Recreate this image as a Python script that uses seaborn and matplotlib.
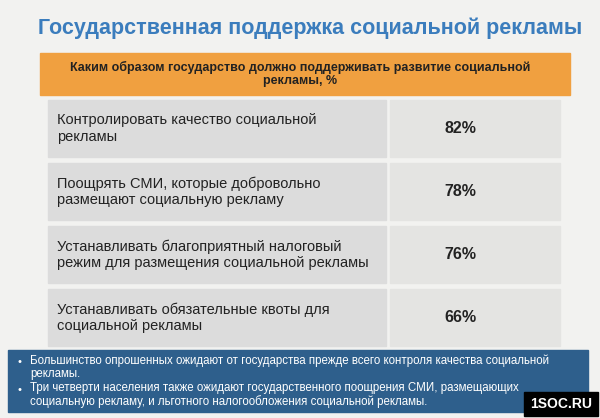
import matplotlib
matplotlib.use("Agg")
import matplotlib.pyplot as plt
import matplotlib.patches as mpatches
import seaborn as sns

title = "Государственная поддержка социальной рекламы"
header = "Каким образом государство должно поддерживать развитие социальной\nрекламы, %"
answers = [
    "Контролировать качество социальной\nрекламы",
    "Поощрять СМИ, которые добровольно\nразмещают социальную рекламу",
    "Устанавливать благоприятный налоговый\nрежим для размещения социальной рекламы",
    "Устанавливать обязательные квоты для\nсоциальной рекламы",
]
shares = [82, 78, 76, 66]
notes = [
    "Большинство опрошенных ожидают от государства прежде всего контроля качества социальной\nрекламы.",
    "Три четверти населения также ожидают государственного поощрения СМИ, размещающих\nсоциальную рекламу, и льготного налогообложения социальной рекламы.",
]

sns.set_theme(style="white", font="Liberation Sans")
fig = plt.figure(figsize=(6, 4.18), dpi=100)
fig.patch.set_facecolor("#f2f2f0")
ax = fig.add_axes([0, 0, 1, 1])
ax.set_xlim(0, 600)
ax.set_ylim(418, 0)
ax.axis("off")

ax.text(310, 28, title, ha="center", va="center", fontsize=15.5, fontweight="bold", color="#3b7dbd")
ax.add_patch(mpatches.Rectangle((40, 53), 530, 42, color="#f0a040"))
ax.text(300, 74, header, ha="center", va="center", fontsize=9, fontweight="bold", color="#222222", linespacing=1.2)

row_top = [100, 163, 226, 289]
row_h = 57
for top, label, val in zip(row_top, answers, shares):
    ax.add_patch(mpatches.Rectangle((48, top), 338, row_h, color="#dcdcdc"))
    ax.add_patch(mpatches.Rectangle((390, top), 170, row_h, color="#e4e4e2"))
    ax.text(57, top + row_h / 2, label, ha="left", va="center", fontsize=10.5, color="#222222", linespacing=1.2)
    ax.text(460, top + row_h / 2, f"{val}%", ha="center", va="center", fontsize=11.5, fontweight="bold", color="#222222")

ax.add_patch(mpatches.Rectangle((8, 350), 580, 62, color="#2e5f8c"))
for y, note in zip([367, 395], notes):
    ax.text(18, y - 5, "•", ha="left", va="center", fontsize=8, color="white")
    ax.text(30, y, note, ha="left", va="center", fontsize=8.3, color="white", linespacing=1.15)

ax.add_patch(mpatches.Rectangle((524, 392), 74, 24, color="black"))
ax.text(561, 404, "1SOC.RU", ha="center", va="center", fontsize=10, fontweight="bold", color="white")

fig.savefig("out.png", dpi=100, facecolor=fig.get_facecolor())
